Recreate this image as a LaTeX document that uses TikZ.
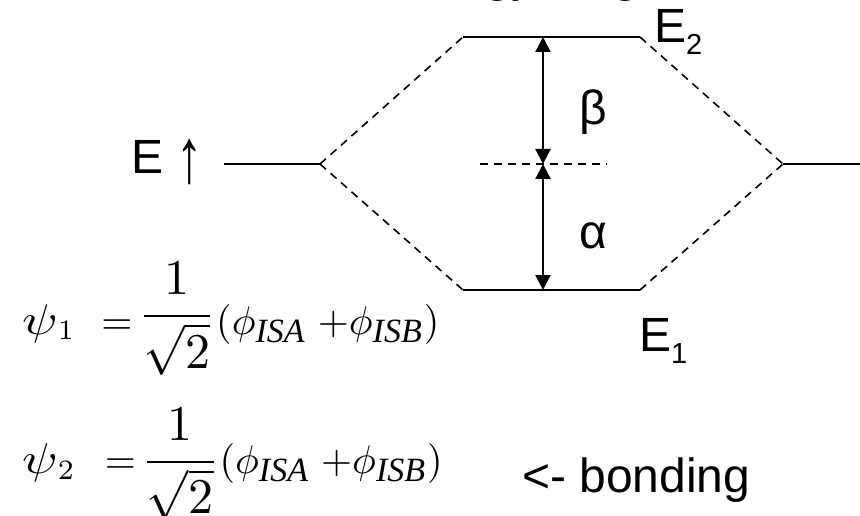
\documentclass[tikz,border=0pt]{standalone}
\usepackage{graphicx}
\usepackage{fontspec}
\setmainfont{Liberation Sans}
\newfontfamily\timesf{Liberation Serif}
\usetikzlibrary{arrows.meta}
\newcommand{\lvsub}[1]{\raisebox{-12pt}{\fontsize{29}{30}\selectfont #1}}
\newcommand{\eqpart}[1]{\scalebox{4}{\normalsize$#1$}}
\newcommand{\bigpsi}{\scalebox{5.2}[4.3]{\normalsize$\psi$}}
\newcommand{\sbs}[1]{\mbox{\timesf\itshape\fontsize{8.5}{9}\selectfont #1}}
\newcommand{\eqfrac}[1]{\raisebox{#1}{\scalebox{5}{\normalsize$\displaystyle\frac{1}{\sqrt{2}}$}}}
\tikzset{
  levelline/.style={line width=2.2pt},
  corr/.style={line width=1.6pt, dash pattern=on 8pt off 6pt},
  gaparrow/.style={line width=2.2pt, {Triangle[width=15pt,length=15pt]}-{Triangle[width=15pt,length=15pt]}},
  lbl/.style={font=\fontsize{48}{56}\selectfont, inner sep=0pt},
  eq/.style={inner sep=0pt}
}
\begin{document}
\begin{tikzpicture}[x=1pt,y=-1pt]
\useasboundingbox (0,0) rectangle (860,516);
% levels
\coordinate (La) at (224,164);
\coordinate (Lb) at (320,164);
\coordinate (Ra) at (783,164);
\coordinate (Rb) at (860,164);
\coordinate (Ta) at (463,37);
\coordinate (Tb) at (640,37);
\coordinate (Ba) at (463,290);
\coordinate (Bb) at (640,290);
\coordinate (Mid) at (543,164);
\coordinate (Mtop) at (543,37);
\coordinate (Mbot) at (543,290);
\coordinate (Da) at (480,164);
\coordinate (Db) at (607,164);
\draw[levelline] (La) -- (Lb);
\draw[levelline] (Ra) -- (Rb);
\draw[levelline] (Ta) -- (Tb);
\draw[levelline] (Ba) -- (Bb);
\draw[corr] (Lb) -- (Ta);
\draw[corr] (Lb) -- (Ba);
\draw[corr] (Tb) -- (Ra);
\draw[corr] (Bb) -- (Ra);
\draw[corr] (Da) -- (Db);
\draw[gaparrow] (Mid) -- (Mtop);
\draw[gaparrow] (Mid) -- (Mbot);
% labels
\node[lbl, anchor=base west] (title) at (383,-8) {Energy diagram};
\node[lbl] (beta) at (593,112) {β};
\node[lbl] (alpha) at (593,236) {α};
\node[lbl, anchor=base west] (E2) at (654,43) {E\lvsub{2}};
\node[lbl, anchor=base west] (E1) at (639,351) {E\lvsub{1}};
\node[lbl, anchor=base east] (Eaxis) at (203,174) {E \raisebox{-9pt}{\scalebox{1.1}[1.6]{↑}}};
\node[lbl, anchor=base west] (bond) at (522,492) {<- bonding};
% equations
\node[eq, anchor=base west] (psi1) at (22,334) {\bigpsi\eqpart{{}_1\mkern6.5mu=}\hspace{5pt}\eqfrac{5.5pt}\hspace{0pt}\eqpart{(\phi_{\sbs{ISA}}\;{+}\phi_{\sbs{ISB}})}};
\node[eq, anchor=base west] (psi2) at (22,473) {\bigpsi\eqpart{{}_2\mkern8mu=}\hspace{5pt}\eqfrac{-1pt}\hspace{0pt}\eqpart{(\phi_{\sbs{ISA}}\;{+}\phi_{\sbs{ISB}})}};
\end{tikzpicture}
\end{document}
